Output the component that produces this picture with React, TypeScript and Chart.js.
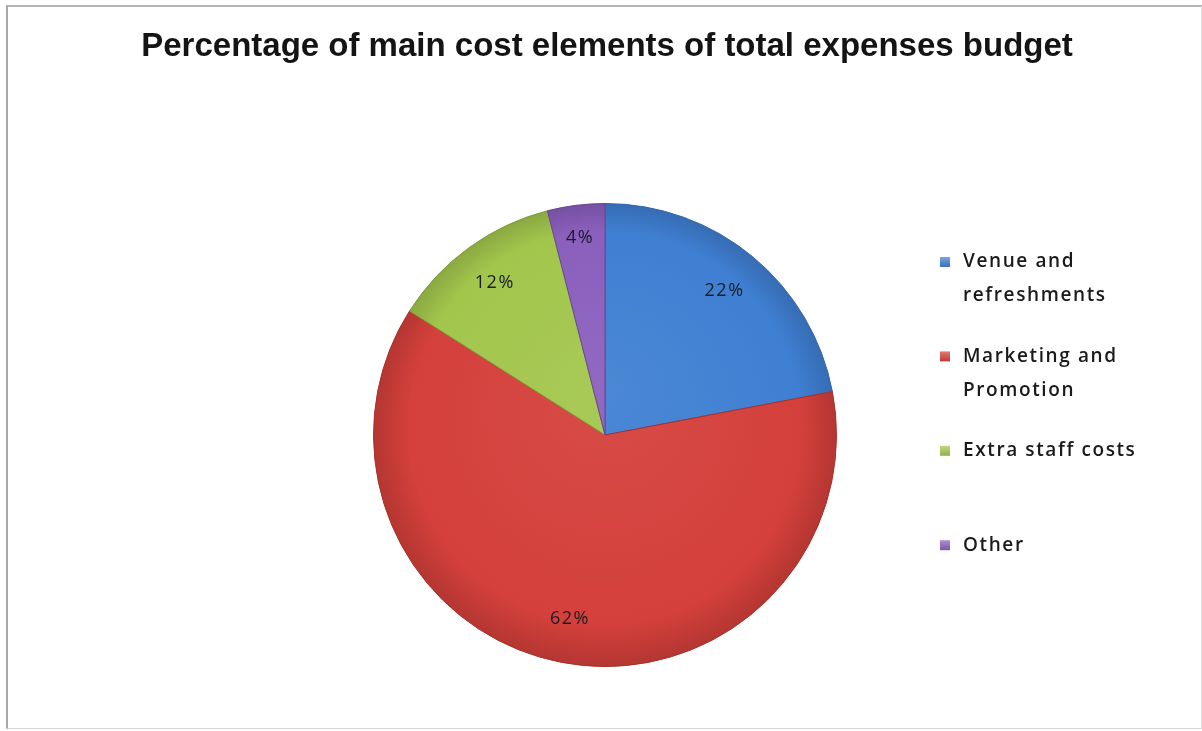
import React, { useEffect, useRef } from "react";
import { Chart, registerables } from "chart.js";

Chart.register(...registerables);

const titleText = "Percentage of main cost elements of total expenses budget";
const categories = ["Venue and refreshments", "Marketing and Promotion", "Extra staff costs", "Other"];
const legendLines = [["Venue and", "refreshments"], ["Marketing and", "Promotion"], ["Extra staff costs"], ["Other"]];
const percentages = [22, 62, 12, 4];
const sliceColors = ["#3f7fd2", "#d4403b", "#a2c64c", "#8a5fbd"];
const sliceEdges = ["#2f64a8", "#a83028", "#7f9c36", "#6a4592"];

function shade(hex: string, amt: number): string {
  const n = parseInt(hex.slice(1), 16);
  let r = (n >> 16) & 255, g = (n >> 8) & 255, b = n & 255;
  const f = (c: number) => Math.max(0, Math.min(255, Math.round(amt >= 0 ? c + (255 - c) * amt : c * (1 + amt))));
  r = f(r); g = f(g); b = f(b);
  return `rgb(${r},${g},${b})`;
}

const overlayPlugin = {
  id: "overlay",
  afterDatasetsDraw(chart: any) {
    const ctx = chart.ctx;
    const meta = chart.getDatasetMeta(0);
    ctx.save();
    ctx.font = "18px 'Open Sans', sans-serif";
    (ctx as any).letterSpacing = "1.5px";
    ctx.fillStyle = "#1c1c24";
    ctx.textAlign = "center";
    ctx.textBaseline = "middle";
    meta.data.forEach((arc: any, i: number) => {
      const p = arc.getProps(["x", "y", "startAngle", "endAngle", "outerRadius"], true);
      const mid = (p.startAngle + p.endAngle) / 2;
      const r = p.outerRadius * (percentages[i] < 6 ? 0.86 : 0.81);
      ctx.fillText(`${percentages[i]}%`, p.x + Math.cos(mid) * r, p.y + Math.sin(mid) * r);
    });
    ctx.restore();
  },
  afterDraw(chart: any) {
    const ctx = chart.ctx;
    ctx.save();
    // title
    ctx.font = "bold 33px 'Liberation Sans', Arial, sans-serif";
    ctx.fillStyle = "#141414";
    ctx.textAlign = "center";
    ctx.textBaseline = "middle";
    ctx.fillText(titleText, 607, 47);
    // legend
    ctx.font = "600 19px 'Open Sans', sans-serif";
    (ctx as any).letterSpacing = "1.6px";
    ctx.textAlign = "left";
    legendLines.forEach((lines, i) => {
      const y0 = 262 + i * 94.4;
      const g = ctx.createLinearGradient(0, y0 - 5, 0, y0 + 5);
      g.addColorStop(0, shade(sliceColors[i], 0.3));
      g.addColorStop(1, shade(sliceColors[i], -0.1));
      ctx.fillStyle = g;
      ctx.fillRect(940, y0 - 5, 10, 10);
      ctx.fillStyle = "#1a1a1a";
      lines.forEach((t, j) => ctx.fillText(t, 963, y0 + j * 34));
    });
    ctx.restore();
  },
};

export default function App() {
  const ref = useRef<HTMLCanvasElement | null>(null);
  useEffect(() => {
    if (!ref.current) return;
    const chart = new Chart(ref.current, {
      type: "pie",
      data: {
        labels: categories,
        datasets: [
          {
            data: percentages,
            backgroundColor: (c: any) => {
              const i = c.dataIndex;
              const a = c.chart.chartArea;
              if (!a) return sliceColors[i];
              const cx = (a.left + a.right) / 2;
              const cy = (a.top + a.bottom) / 2;
              const R = Math.min(a.right - a.left, a.bottom - a.top) / 2;
              const g = c.chart.ctx.createRadialGradient(cx, cy - R * 0.2, 0, cx, cy, R);
              g.addColorStop(0, shade(sliceColors[i], 0.06));
              g.addColorStop(0.85, sliceColors[i]);
              g.addColorStop(1, shade(sliceColors[i], -0.15));
              return g;
            },
            borderColor: sliceEdges,
            borderWidth: 1,
          },
        ],
      },
      options: {
        responsive: false,
        animation: false,
        layout: { padding: { left: 373, right: 365, top: 203, bottom: 64 } },
        plugins: {
          legend: { display: false },
          title: { display: false },
          tooltip: { enabled: false },
        },
      },
      plugins: [overlayPlugin],
    });
    return () => chart.destroy();
  }, []);
  return (
    <div style={{ position: "fixed", left: 0, top: 0, width: 1202, height: 731, background: "#ffffff" }}>
      <div
        style={{
          position: "absolute",
          left: 6,
          top: 5,
          width: 1196,
          height: 724,
          borderLeft: "2px solid #a8a8a8",
          borderTop: "2px solid #b4b4b4",
          borderBottom: "1px solid #d8d8d8",
          borderRight: "1px solid #e0e0e0",
          boxSizing: "border-box",
        }}
      />
      <canvas ref={ref} width={1202} height={731} style={{ position: "absolute", left: 0, top: 0 }} />
    </div>
  );
}
